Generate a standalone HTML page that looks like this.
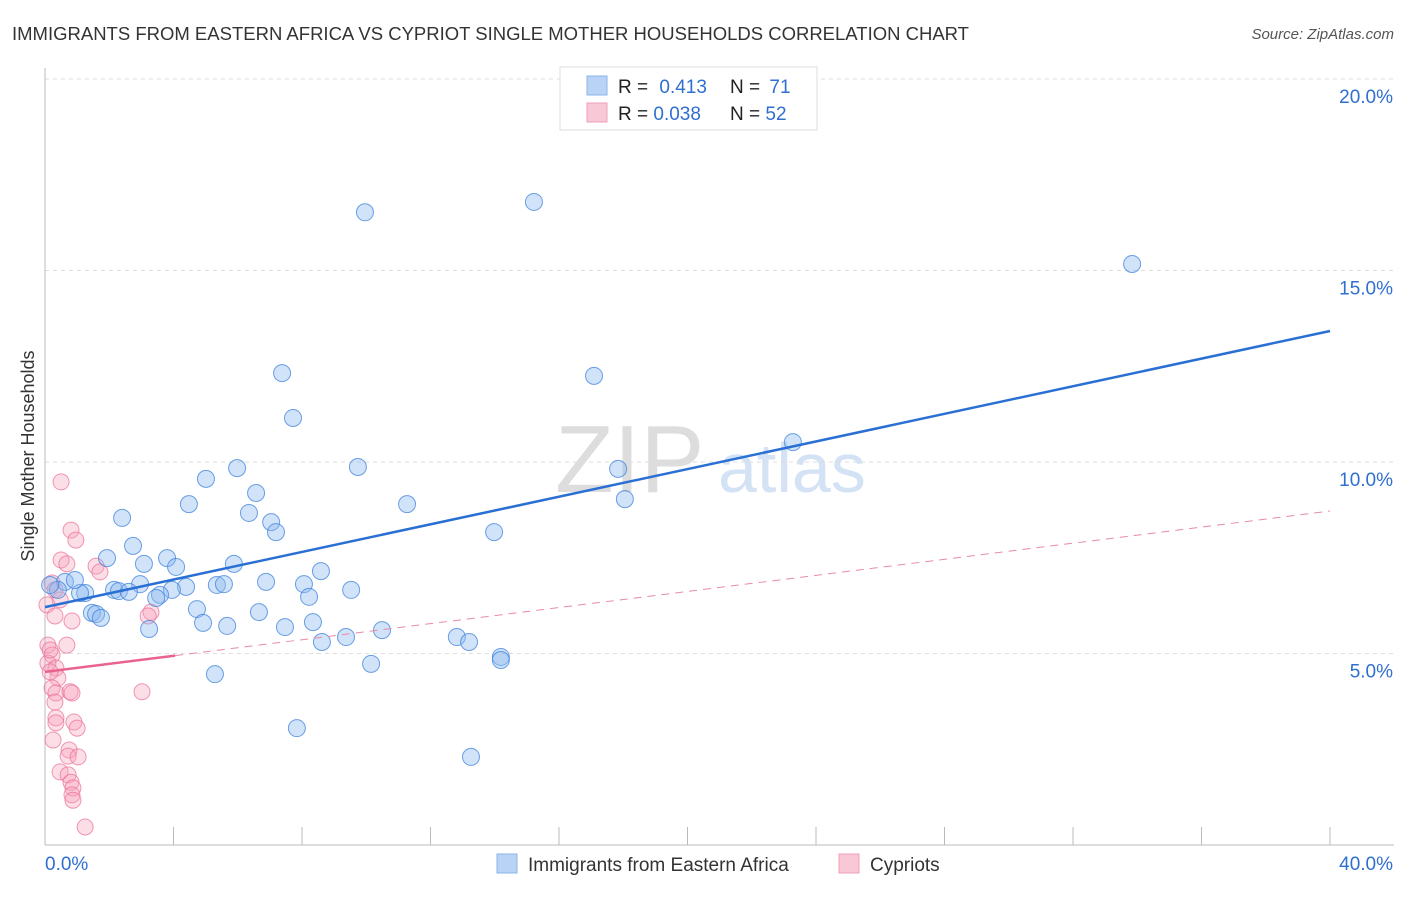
<!DOCTYPE html>
<html><head><meta charset="utf-8">
<style>
body{margin:0;background:#fff;font-family:"Liberation Sans",sans-serif;}
svg text{font-family:"Liberation Sans",sans-serif;}
</style></head>
<body>
<svg id="chart" width="1406" height="892" xmlns="http://www.w3.org/2000/svg">
<text x="12" y="40" font-size="18.5" fill="#333">IMMIGRANTS FROM EASTERN AFRICA VS CYPRIOT SINGLE MOTHER HOUSEHOLDS CORRELATION CHART</text>
<text x="1394" y="39" font-size="15" fill="#555" font-style="italic" text-anchor="end">Source: ZipAtlas.com</text>
<g>
<text x="555" y="492" font-size="96" fill="#ddd" font-family="Liberation Serif">ZIP</text>
<text x="718" y="492" font-size="70" fill="#d3e2f4">atlas</text>
</g>
<g id="grid"></g>
<g id="axes"></g>
<g id="marks"></g>
<text transform="translate(34,456) rotate(-90)" font-size="18" fill="#333" text-anchor="middle">Single Mother Households</text>
<g>
<rect x="560" y="67" width="257" height="63" fill="#fff" stroke="#ddd"/>
<rect x="587" y="76" width="20" height="19" fill="#b8d3f5" stroke="#8ab4ea"/>
<rect x="587" y="103" width="20" height="19" fill="#f9c8d6" stroke="#f0a0b8"/>
<text x="618" y="93" font-size="19" fill="#222">R = <tspan fill="#2f6fd0" dx="6">0.413</tspan></text>
<text x="730" y="93" font-size="19" fill="#222">N = <tspan fill="#2f6fd0" dx="4">71</tspan></text>
<text x="618" y="120" font-size="19" fill="#222">R = <tspan fill="#2f6fd0">0.038</tspan></text>
<text x="730" y="120" font-size="19" fill="#222">N = <tspan fill="#2f6fd0">52</tspan></text>
</g>
<g>
<rect x="497" y="854" width="20" height="19" fill="#b8d3f5" stroke="#8ab4ea"/>
<text x="528" y="871" font-size="19" fill="#333">Immigrants from Eastern Africa</text>
<rect x="839" y="854" width="20" height="19" fill="#f9c8d6" stroke="#f0a0b8"/>
<text x="870" y="871" font-size="19" fill="#333">Cypriots</text>
</g>
</svg>
<script>
const yTicks=[5,10,15,20];
const yTickLabels=["5.0%","10.0%","15.0%","20.0%"];
const xTickLabels=["0.0%","40.0%"];
const blueX=[9.96,15.22,33.84,7.38,17.09,7.72,23.28,5.98,9.74,17.84,5.01,6.57,4.48,11.27,18.05,2.40,6.35,7.04,7.19,13.98,2.74,1.93,3.80,3.08,4.08,5.88,8.59,6.88,5.35,5.57,8.06,2.96,9.53,4.39,3.95,2.15,2.30,2.61,3.58,3.46,8.22,1.25,1.09,0.62,0.93,0.40,0.16,4.73,6.66,1.46,1.59,1.74,4.92,5.67,7.47,8.34,3.24,10.49,9.37,8.62,12.82,13.20,14.19,14.19,10.15,5.29,7.84,13.26];
const blueY=[16.52,16.79,15.17,12.32,12.25,11.15,10.52,9.84,9.87,9.82,9.56,9.19,8.90,8.90,9.03,8.54,8.67,8.43,8.17,8.17,7.81,7.49,7.49,7.34,7.26,7.34,7.15,6.87,6.79,6.81,6.81,6.81,6.66,6.74,6.66,6.66,6.63,6.61,6.53,6.45,6.48,6.58,6.58,6.87,6.92,6.66,6.79,6.16,6.08,6.06,6.03,5.93,5.80,5.72,5.69,5.82,5.64,5.61,5.43,5.30,5.43,5.30,4.91,4.83,4.73,4.46,3.05,2.30];
const pinkX=[0.50,0.81,0.96,0.50,0.68,1.59,1.71,3.30,3.21,0.22,0.31,0.47,0.06,0.31,0.84,0.68,0.09,0.22,0.09,0.34,0.40,0.22,0.34,0.78,0.84,3.02,0.31,0.34,0.34,0.90,1.00,0.25,0.75,0.72,1.03,0.47,0.72,0.81,0.87,0.84,0.87,1.25,0.16,0.16];
const pinkY=[9.48,8.22,7.96,7.44,7.34,7.28,7.13,6.08,5.98,6.84,6.66,6.40,6.27,5.98,5.85,5.22,5.22,4.96,4.75,4.62,4.36,4.10,3.97,4.00,3.97,4.00,3.73,3.32,3.19,3.21,3.05,2.74,2.48,2.32,2.30,1.91,1.83,1.64,1.49,1.31,1.17,0.47,5.09,4.52];
const blueTrend=[6.21,13.42];
const pinkTrend=[4.52,8.72];
const pinkSolidEnd=4.05;
const NS="http://www.w3.org/2000/svg";
const X=v=>45+v*32.125, Y=v=>845-v*38.3;
function mk(tag,attrs,parent){const e=document.createElementNS(NS,tag);for(const k in attrs)e.setAttribute(k,attrs[k]);document.getElementById(parent).appendChild(e);return e;}
yTicks.forEach((t,i)=>{
 const g=mk('line',{x1:45,x2:1394,y1:Y(t),y2:Y(t),stroke:'#ddd','stroke-dasharray':'4,4'},'grid');
 
 
 const l=mk('text',{x:1393,y:Y(t)+24,'font-size':19,fill:'#2f6fd0','text-anchor':'end'},'axes');
 l.textContent=yTickLabels[i];
 
 
});
const ax=mk('line',{x1:45,x2:45,y1:68,y2:845,stroke:'#bbb'},'axes');


const bx=mk('line',{x1:45,x2:1394,y1:845,y2:845,stroke:'#bbb'},'axes');


for(let i=0;i<=10;i++){
 const t=mk('line',{x1:X(i*4),x2:X(i*4),y1:827,y2:845,stroke:'#bbb'},'axes');
 
 
}
[[0,'start',45],[1,'end',1393]].forEach(([i,a,x])=>{
 const l=mk('text',{x:x,y:870,'font-size':19,fill:'#2f6fd0','text-anchor':a},'axes');
 l.textContent=xTickLabels[i];
 
 
});
pinkX.forEach((x,i)=>{
 const c=mk('circle',{cx:X(x),cy:Y(pinkY[i]),r:8,fill:'rgba(245,160,185,0.35)',stroke:'rgba(235,110,150,0.7)','stroke-width':1},'marks');
 
 
});
blueX.forEach((x,i)=>{
 const c=mk('circle',{cx:X(x),cy:Y(blueY[i]),r:8.5,fill:'rgba(140,185,240,0.4)',stroke:'rgba(60,130,220,0.75)','stroke-width':1},'marks');
 
 
});
const bt=mk('line',{x1:X(0),y1:Y(blueTrend[0]),x2:X(40),y2:Y(blueTrend[1]),stroke:'#2a6fd4','stroke-width':2.5},'marks');


const ps=pinkTrend[0]+(pinkTrend[1]-pinkTrend[0])*pinkSolidEnd/40;
const pd=mk('line',{x1:X(pinkSolidEnd),y1:Y(ps),x2:X(40),y2:Y(pinkTrend[1]),stroke:'#e88aa8','stroke-width':1,'stroke-dasharray':'8,6'},'marks');


const pt=mk('line',{x1:X(0),y1:Y(pinkTrend[0]),x2:X(pinkSolidEnd),y2:Y(ps),stroke:'#e8648e','stroke-width':2.5},'marks');


</script>
</body></html>
